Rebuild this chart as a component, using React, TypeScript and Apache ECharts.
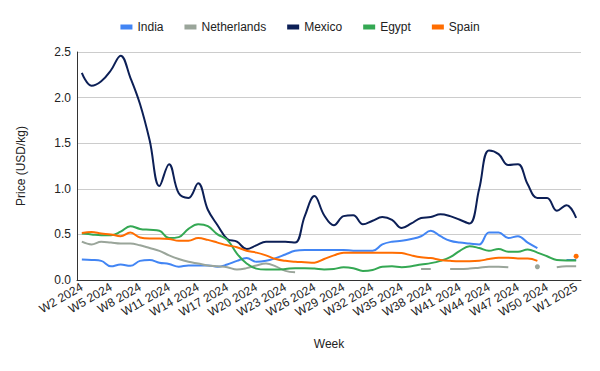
import React, { useEffect, useRef } from "react";
import * as echarts from "echarts";

const weeks = [
  "W2 2024", "W3 2024", "W4 2024", "W5 2024", "W6 2024", "W7 2024", "W8 2024", "W9 2024", "W10 2024", "W11 2024",
  "W12 2024", "W13 2024", "W14 2024", "W15 2024", "W16 2024", "W17 2024", "W18 2024", "W19 2024", "W20 2024", "W21 2024",
  "W22 2024", "W23 2024", "W24 2024", "W25 2024", "W26 2024", "W27 2024", "W28 2024", "W29 2024", "W30 2024", "W31 2024",
  "W32 2024", "W33 2024", "W34 2024", "W35 2024", "W36 2024", "W37 2024", "W38 2024", "W39 2024", "W40 2024", "W41 2024",
  "W42 2024", "W43 2024", "W44 2024", "W45 2024", "W46 2024", "W47 2024", "W48 2024", "W49 2024", "W50 2024", "W51 2024",
  "W52 2024", "W1 2025",
];

const india = [
  0.225, 0.22, 0.21, 0.15, 0.17, 0.155, 0.21, 0.22, 0.19, 0.175,
  0.145, 0.16, 0.16, 0.16, 0.145, 0.17, 0.21, 0.24, 0.2, 0.21,
  0.24, 0.28, 0.32, 0.33, 0.33, 0.33, 0.33, 0.33, 0.32, 0.32,
  0.32, 0.39, 0.42, 0.43, 0.45, 0.48, 0.54, 0.48, 0.43, 0.41,
  0.4, 0.39, 0.52, 0.52, 0.46, 0.48, 0.41, 0.35, null, null,
  0.22, 0.22,
];

const netherlands = [
  0.42, 0.39, 0.42, 0.41, 0.4, 0.4, 0.38, 0.35, 0.32, 0.27,
  0.23, 0.2, 0.18, 0.16, 0.15, 0.14, 0.115, 0.13, 0.16, 0.18,
  0.15, 0.1, 0.085, null, null, null, null, null, null, null,
  null, null, null, null, null, 0.12, 0.12, null, 0.12, 0.12,
  0.125, 0.135, 0.145, 0.145, 0.14, null, null, 0.145, null, 0.14,
  0.15, 0.15,
];

const mexico = [
  2.27, 2.13, 2.18, 2.3, 2.46, 2.22, 1.93, 1.53, 1.03, 1.27,
  0.95, 0.9, 1.06, 0.77, 0.6, 0.45, 0.42, 0.34, 0.38, 0.42,
  0.42, 0.42, 0.41, 0.7, 0.92, 0.71, 0.6, 0.7, 0.71, 0.61,
  0.65, 0.69, 0.66, 0.57, 0.62, 0.68, 0.69, 0.72, 0.7, 0.66,
  0.62, 1.0, 1.42, 1.38, 1.26, 1.27, 1.05, 0.9, 0.9, 0.76,
  0.82, 0.68,
];

const egypt = [
  0.51, 0.5, 0.49, 0.49, 0.53, 0.59, 0.56, 0.55, 0.54, 0.46,
  0.47, 0.56, 0.61, 0.59, 0.5, 0.44, 0.29, 0.18, 0.125, 0.115,
  0.115, 0.12, 0.13, 0.13, 0.125, 0.115, 0.12, 0.14, 0.13, 0.1,
  0.11, 0.145, 0.15, 0.14, 0.15, 0.17, 0.185, 0.21, 0.25, 0.32,
  0.37, 0.35, 0.32, 0.34, 0.31, 0.31, 0.335, 0.3, 0.26, 0.22,
  0.215, 0.215,
];

const spain = [
  0.515, 0.525, 0.51, 0.5, 0.48, 0.52, 0.465, 0.455, 0.455, 0.45,
  0.43, 0.43, 0.46, 0.44, 0.41, 0.38, 0.36, 0.32, 0.3, 0.27,
  0.23, 0.21, 0.2, 0.195, 0.19, 0.23, 0.27, 0.3, 0.3, 0.3,
  0.3, 0.3, 0.3, 0.295, 0.27, 0.25, 0.24, 0.22, 0.21, 0.205,
  0.205, 0.21, 0.23, 0.245, 0.245, 0.235, 0.235, 0.21, null, null,
  null, 0.26,
];

const seriesDefs = [
  { name: "India", color: "#4285f4", values: india },
  { name: "Netherlands", color: "#9aa59a", values: netherlands },
  { name: "Mexico", color: "#0c1f56", values: mexico },
  { name: "Egypt", color: "#34a853", values: egypt },
  { name: "Spain", color: "#ff6d01", values: spain },
];

const FONT = "'Liberation Sans', Arial, sans-serif";

function toData(values: (number | null)[]) {
  return values.map((v, i) => {
    if (v === null) return null;
    const prev = i > 0 ? values[i - 1] : null;
    const next = i < values.length - 1 ? values[i + 1] : null;
    if (prev === null && next === null) {
      return { value: v, symbol: "circle", symbolSize: 5 };
    }
    return v;
  });
}

export default function App() {
  const ref = useRef<HTMLDivElement>(null);

  useEffect(() => {
    if (!ref.current) return;
    const chart = echarts.init(ref.current, undefined, { renderer: "svg" });
    chart.setOption({
      animation: false,
      backgroundColor: "#ffffff",
      textStyle: { fontFamily: FONT },
      legend: {
        top: 16,
        left: "center",
        icon: "rect",
        itemWidth: 12,
        itemHeight: 5,
        itemGap: 21,
        textStyle: { fontSize: 12, color: "#222222", fontFamily: FONT },
        data: seriesDefs.map((s) => s.name),
      },
      grid: { left: 77, right: 19, top: 52, bottom: 91, containLabel: false },
      xAxis: {
        type: "category",
        data: weeks,
        boundaryGap: true,
        name: "Week",
        nameLocation: "middle",
        nameGap: 58,
        nameTextStyle: { fontSize: 12, color: "#222222", fontFamily: FONT },
        axisLine: { show: true, lineStyle: { color: "#333333", width: 1 } },
        axisTick: { show: false },
        axisLabel: {
          interval: 2,
          rotate: 30,
          fontSize: 12,
          color: "#222222",
          margin: 6,
          fontFamily: FONT,
        },
        splitLine: { show: false },
      },
      yAxis: {
        type: "value",
        min: 0,
        max: 2.5,
        interval: 0.5,
        name: "Price (USD/kg)",
        nameLocation: "middle",
        nameGap: 50,
        nameTextStyle: { fontSize: 12, color: "#222222", fontFamily: FONT },
        axisLine: { show: true, lineStyle: { color: "#333333", width: 1 } },
        axisTick: { show: false },
        axisLabel: {
          fontSize: 12,
          color: "#222222",
          margin: 6,
          fontFamily: FONT,
          formatter: (v: number) => v.toFixed(1),
        },
        splitLine: { show: true, lineStyle: { color: "#cccccc", width: 1 } },
      },
      series: seriesDefs.map((s) => ({
        name: s.name,
        type: "line",
        data: toData(s.values),
        smooth: 0.4,
        connectNulls: false,
        symbol: "none",
        showSymbol: true,
        showAllSymbol: true,
        color: s.color,
        itemStyle: { color: s.color },
        lineStyle: { color: s.color, width: 2 },
      })),
    });
    return () => chart.dispose();
  }, []);

  return (
    <div
      ref={ref}
      style={{ position: "fixed", left: 0, top: 0, width: 600, height: 371 }}
    />
  );
}
